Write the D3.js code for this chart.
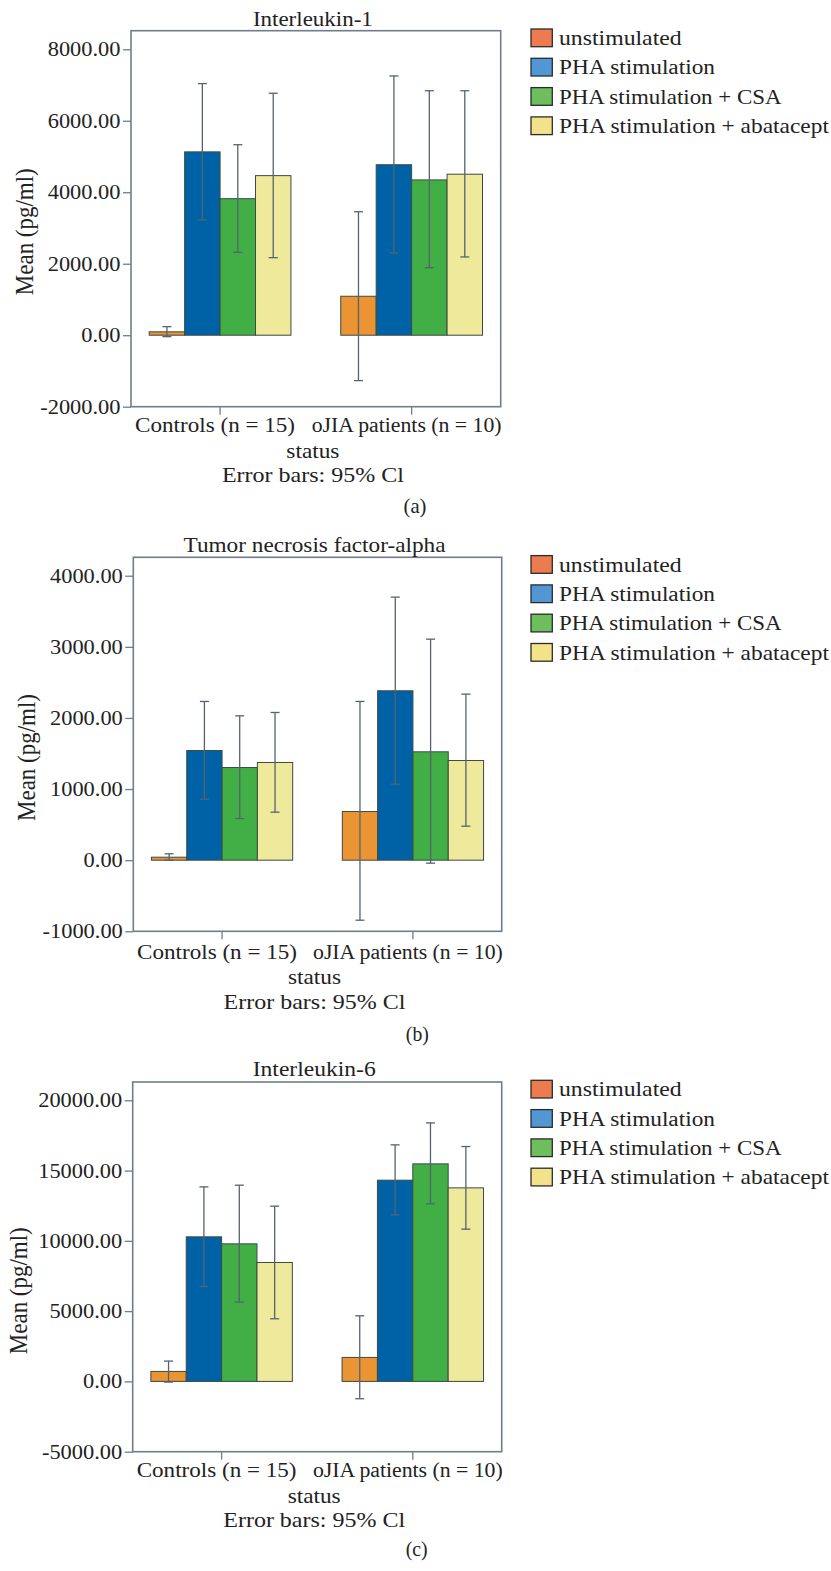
<!DOCTYPE html>
<html>
<head>
<meta charset="utf-8">
<script src="https://cdn.jsdelivr.net/npm/d3@7"></script>
<style>
  html, body { margin: 0; padding: 0; background: #fff; }
  svg { display: block; }
  text { font-family: "Liberation Serif", "Times New Roman", serif; fill: #222; }
</style>
</head>
<body>
<svg id="chart" width="831" height="1571"></svg>
<script>
// ---------------- DATA ----------------
const groups = ["Controls (n = 15)", "oJIA patients (n = 10)"];
const series = ["unstimulated", "PHA stimulation", "PHA stimulation + CSA", "PHA stimulation + abatacept"];

// Interleukin-1 (pg/ml): [group][series]
const il1Mean = [[95, 5130, 3820, 4465], [1090, 4770, 4345, 4505]];
const il1Low  = [[-40, 3225, 2320, 2170], [-1270, 2300, 1890, 2190]];
const il1High = [[240, 7040, 5330, 6770], [3455, 7255, 6840, 6840]];
const il1Ticks = [-2000, 0, 2000, 4000, 6000, 8000];

// Tumor necrosis factor-alpha (pg/ml)
const tnfMean = [[42, 1542, 1303, 1374], [684, 2382, 1524, 1402]];
const tnfLow  = [[0, 858, 586, 675], [-844, 1069, -42, 478]];
const tnfHigh = [[90, 2232, 2030, 2077], [2232, 3699, 3108, 2335]];
const tnfTicks = [-1000, 0, 1000, 2000, 3000, 4000];

// Interleukin-6 (pg/ml)
const il6Mean = [[711, 10286, 9788, 8461], [1706, 14315, 15476, 13770]];
const il6Low  = [[-47, 6754, 5640, 4456], [-1232, 11850, 12632, 10831]];
const il6High = [[1446, 13840, 13959, 12466], [4669, 16827, 18391, 16709]];
const il6Ticks = [-5000, 0, 5000, 10000, 15000, 20000];

const titles = ["Interleukin-1", "Tumor necrosis factor-alpha", "Interleukin-6"];
const panelLetters = ["(a)", "(b)", "(c)"];
const yLabel = "Mean (pg/ml)";
const xLabel = "status";
const noteLabel = "Error bars: 95% Cl";

// ---------------- STYLE / LAYOUT ----------------
const barColors = ["#EA9434", "#0062A6", "#42AE46", "#EEE99B"];
const legendColors = ["#EC7C4F", "#5197D3", "#6DBE5D", "#F2E38B"];

// rendered widths of the (horizontally stretched) texts in the original
const textWidths = {
  "Interleukin-1": 120, "Tumor necrosis factor-alpha": 262, "Interleukin-6": 123,
  "Controls (n = 15)": 160, "oJIA patients (n = 10)": 190,
  "status": 53, "Error bars: 95% Cl": 182,
  "unstimulated": 122.7, "PHA stimulation": 156, "PHA stimulation + CSA": 222.7,
  "PHA stimulation + abatacept": 270,
  "(a)": 23, "(b)": 23, "(c)": 22
};
function tickWidth(s) {
  const digits = (s.match(/[0-9]/g) || []).length;
  return digits * 11.2 + 5.6 + (s[0] === "-" ? 7.5 : 0);
}

const panels = [
  { mean: il1Mean, low: il1Low, high: il1High, ticks: il1Ticks, domain: [-2000, 8520],
    frame: { l: 131, t: 30.7, r: 500.7, b: 406.7 }, titleY: 26, catY: 432, statusY: 458, noteY: 482,
    letterY: 513, yl: { x: 33, y: 231.7 } },
  { mean: tnfMean, low: tnfLow, high: tnfHigh, ticks: tnfTicks, domain: [-1000, 4259],
    frame: { l: 133.3, t: 557.3, r: 501.7, b: 931.3 }, titleY: 552.3, catY: 959, statusY: 984, noteY: 1009,
    letterY: 1041, yl: { x: 35, y: 757.5 } },
  { mean: il6Mean, low: il6Low, high: il6High, ticks: il6Ticks, domain: [-5000, 21300],
    frame: { l: 132.7, t: 1082, r: 501.7, b: 1451.7 }, titleY: 1076, catY: 1477.3, statusY: 1502.7, noteY: 1526.7,
    letterY: 1556, yl: { x: 27, y: 1290.7 } }
];

const svg = d3.select("#chart");

// place a text and stretch it horizontally to the width it has in the original
function fitText(g, x, y, str, size, anchor, target) {
  const t = g.append("text")
    .attr("text-anchor", anchor || "middle")
    .attr("font-size", size)
    .text(str);
  const natural = t.node().getComputedTextLength() || 1;
  const w = target || textWidths[str] || natural * 1.2;
  t.attr("transform", `translate(${x},${y}) scale(${w / natural},1)`);
  return t;
}

const fmt = v => d3.format(".2f")(v).replace("\u2212", "-");

panels.forEach((p, pi) => {
  const f = p.frame;
  const g = svg.append("g");
  const y = d3.scaleLinear().domain(p.domain).range([f.b, f.t]);
  const x0 = d3.scaleBand().domain(groups).range([f.l, f.r]).paddingInner(0.26).paddingOuter(0.095);
  const x1 = d3.scaleBand().domain(series).range([0, x0.bandwidth()]).padding(0);
  const cx = (f.l + f.r) / 2 - 3;

  // bars
  groups.forEach((grp, gi) => {
    const gg = g.append("g").attr("transform", `translate(${x0(grp)},0)`);
    gg.selectAll("rect")
      .data(series.map((s, si) => ({ s, si, v: p.mean[gi][si] })))
      .join("rect")
      .attr("x", d => x1(d.s))
      .attr("width", x1.bandwidth())
      .attr("y", d => y(Math.max(0, d.v)))
      .attr("height", d => Math.abs(y(d.v) - y(0)))
      .attr("fill", d => barColors[d.si])
      .attr("stroke", "#3d4a42")
      .attr("stroke-width", 1);

    // error bars
    const eb = gg.selectAll("g.eb")
      .data(series.map((s, si) => ({ s, lo: p.low[gi][si], hi: p.high[gi][si] })))
      .join("g").attr("class", "eb")
      .attr("stroke", "#56636f").attr("stroke-width", 1.3);
    const mid = d => x1(d.s) + x1.bandwidth() / 2;
    eb.append("line")
      .attr("x1", mid).attr("x2", mid)
      .attr("y1", d => y(d.lo)).attr("y2", d => y(d.hi));
    eb.append("line")
      .attr("x1", d => mid(d) - 4.5).attr("x2", d => mid(d) + 4.5)
      .attr("y1", d => y(d.hi)).attr("y2", d => y(d.hi));
    eb.append("line")
      .attr("x1", d => mid(d) - 4.5).attr("x2", d => mid(d) + 4.5)
      .attr("y1", d => y(d.lo)).attr("y2", d => y(d.lo));
  });

  // frame
  g.append("rect")
    .attr("x", f.l).attr("y", f.t).attr("width", f.r - f.l).attr("height", f.b - f.t)
    .attr("fill", "none").attr("stroke", "#6f7d8a").attr("stroke-width", 1.6);

  // y axis (ticks from the scale, labels stretched like the original)
  const yAxis = d3.axisLeft(y).tickValues(p.ticks).tickSize(8).tickFormat("");
  const ya = g.append("g").attr("transform", `translate(${f.l},0)`).call(yAxis);
  ya.select(".domain").remove();
  ya.selectAll(".tick line").attr("stroke", "#6f7d8a").attr("stroke-width", 1.3);
  p.ticks.forEach(v => {
    const s = fmt(v);
    fitText(g, f.l - 10.5, y(v) + 7, s, 20.5, "end", tickWidth(s));
  });

  // x axis
  const xAxis = d3.axisBottom(x0).tickSize(8).tickFormat("");
  const xa = g.append("g").attr("transform", `translate(0,${f.b})`).call(xAxis);
  xa.select(".domain").remove();
  xa.selectAll(".tick line").attr("stroke", "#6f7d8a").attr("stroke-width", 1.3);
  groups.forEach(grp => {
    fitText(g, x0(grp) + x0.bandwidth() / 2 - 5, p.catY, grp, 20.5);
  });

  // titles and labels
  fitText(g, cx, p.titleY, titles[pi], 20.5);
  fitText(g, cx, p.statusY, xLabel, 20.5);
  fitText(g, cx, p.noteY, noteLabel, 20.5);
  fitText(g, f.l + 284, p.letterY, panelLetters[pi], 20.5);

  const yl = g.append("text")
    .attr("text-anchor", "middle")
    .attr("font-size", 22)
    .text(yLabel);
  const nat = yl.node().getComputedTextLength() || 1;
  yl.attr("transform", `translate(${p.yl.x},${p.yl.y}) rotate(-90) scale(${127 / nat},1.1)`);

  // legend
  const lg = g.append("g");
  series.forEach((s, si) => {
    const top = f.t - 1.7 + si * 29.3;
    lg.append("rect")
      .attr("x", 531).attr("y", top).attr("width", 21.3).attr("height", 17.7)
      .attr("fill", legendColors[si]).attr("stroke", "#2b2b2b").attr("stroke-width", 1.3);
    fitText(lg, 559, top + 16, s, 20.5, "start");
  });
});
</script>
</body>
</html>
